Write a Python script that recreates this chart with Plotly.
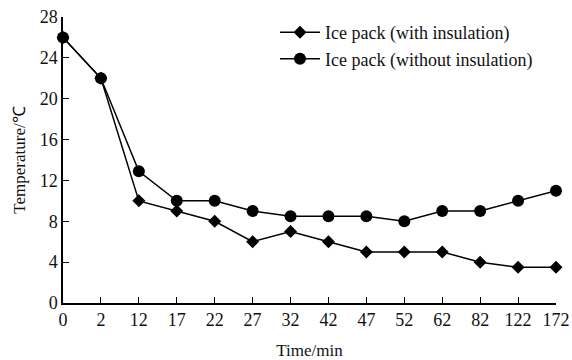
import plotly.graph_objects as go

time_labels = ["0", "2", "12", "17", "22", "27", "32", "42", "47", "52", "62", "82", "122", "172"]
with_insulation = [26, 22, 10, 9, 8, 6, 7, 6, 5, 5, 5, 4, 3.5, 3.5]
without_insulation = [26, 22, 12.9, 10, 10, 9, 8.5, 8.5, 8.5, 8, 9, 9, 10, 11]
y_ticks = [0, 4, 8, 12, 16, 20, 24, 28]

x_idx = list(range(len(time_labels)))
font_family = "Liberation Serif, Times New Roman, serif"

fig = go.Figure()
fig.add_trace(go.Scatter(
    x=x_idx, y=with_insulation, mode="lines+markers",
    name="Ice pack (with insulation)",
    line=dict(color="black", width=1.5),
    marker=dict(symbol="diamond", size=10, color="black"),
    cliponaxis=False,
))
fig.add_trace(go.Scatter(
    x=x_idx, y=without_insulation, mode="lines+markers",
    name="Ice pack (without insulation)",
    line=dict(color="black", width=1.5),
    marker=dict(symbol="circle", size=12, color="black"),
    cliponaxis=False,
))

fig.update_layout(
    width=572, height=360,
    margin=dict(l=63, r=16, t=17, b=57),
    paper_bgcolor="white", plot_bgcolor="white",
    font=dict(family=font_family, size=18, color="#111"),
    showlegend=True,
    legend=dict(x=0.43, y=1.01, xanchor="left", yanchor="top",
                bgcolor="rgba(0,0,0,0)", font=dict(size=18),
                itemwidth=40, tracegroupgap=10),
    xaxis=dict(
        range=[0, 13], tickvals=x_idx, ticktext=time_labels, automargin=False,
        showgrid=False, zeroline=False, showline=True, linecolor="black", linewidth=1.5,
        ticks="inside", ticklen=6, tickcolor="black", tickwidth=1.2,
        title=dict(text="Time/min", font=dict(size=17), standoff=20),
    ),
    yaxis=dict(
        range=[0, 28], tickvals=y_ticks, automargin=False,
        showgrid=False, zeroline=False, showline=True, linecolor="black", linewidth=1.5,
        ticks="inside", ticklen=6, tickcolor="black", tickwidth=1.2,
        title=dict(text="Temperature/℃", font=dict(size=17), standoff=10),
    ),
)

fig.write_html("out.html")
